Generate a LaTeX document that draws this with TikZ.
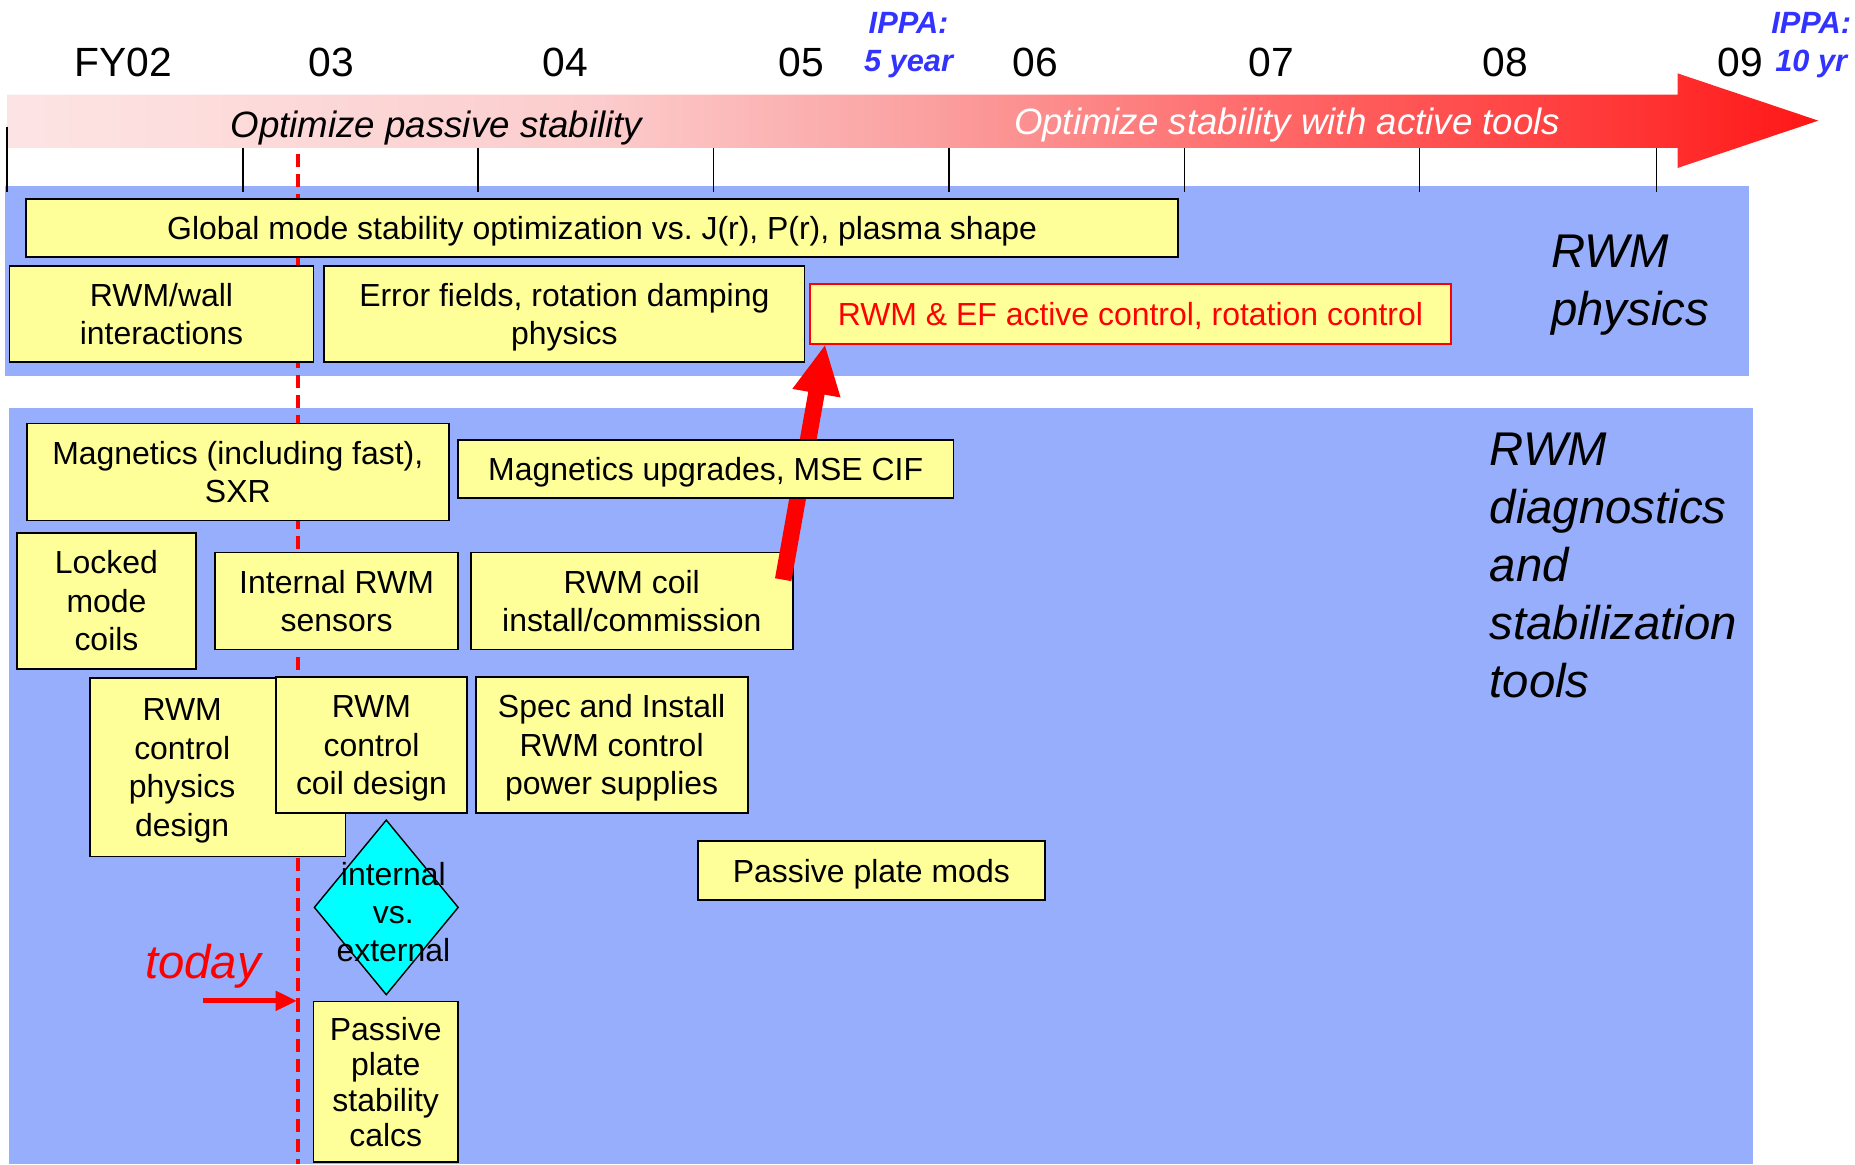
\documentclass[tikz,border=0pt]{standalone}
\usepackage{fontspec}
\setmainfont{Liberation Sans}
\usetikzlibrary{positioning, shapes.geometric, arrows.meta}
\frenchspacing

\definecolor{boxyellow}{RGB}{255,255,153}
\definecolor{panelblue}{RGB}{150,174,252}
\definecolor{ippablue}{RGB}{51,51,255}
\definecolor{choicecyan}{RGB}{0,255,255}
\definecolor{barA}{RGB}{253,228,228}
\definecolor{barB}{RGB}{252,205,205}
\definecolor{barC}{RGB}{251,162,162}
\definecolor{barD}{RGB}{255,104,104}
\definecolor{barE}{RGB}{255,52,52}
\definecolor{barF}{RGB}{255,22,22}
\pgfdeclarehorizontalshading{barshade}{100bp}{color(0bp)=(barA); color(25bp)=(barA);
  color(41bp)=(barB); color(50bp)=(barC); color(60bp)=(barD); color(70bp)=(barE);
  color(75bp)=(barF); color(100bp)=(barF)}
\newcommand{\boxfont}{\fontsize{27}{32.5}\selectfont}

\begin{document}
\begin{tikzpicture}[x=1pt, y=-1pt, node distance=10pt,
  taskbox/.style={draw, fill=boxyellow, line width=1.6pt, inner sep=0pt, outer sep=0pt,
    align=flush center, font=\boxfont,
    execute at begin node={\rule{0pt}{25.9pt}},
    execute at end node={\rule[-6.6pt]{0pt}{6.6pt}}},
  yearlabel/.style={font=\fontsize{34.5}{40}\selectfont},
  ippa/.style={text=ippablue, align=center, font=\fontsize{26}{32.4}\selectfont\bfseries\itshape},
  sidelabel/.style={anchor=north west, inner sep=0pt, align=left,
    font=\fontsize{40}{49}\selectfont\itshape}]
  \useasboundingbox (0,0) rectangle (1568,984);

  % panels and time bar
  \fill[panelblue] (4,157) rectangle (1478,318);
  \fill[panelblue] (8,345) rectangle (1482,984);
  \shade[shading=barshade] (6,80) -- (1418,80) -- (1418,62) -- (1537,102)
    -- (1418,142) -- (1418,125) -- (6,125) -- cycle;
  \node[font=\fontsize{31}{36}\selectfont\itshape] (passive) at (369,108)
  {Optimize passive stability};
  \node[text=white, font=\fontsize{31}{36}\selectfont\itshape] (active tools) at (1088,106)
  {Optimize stability with active tools};
  \draw[line width=1.2pt] (6,107) -- (6,162) (205.5,125) -- (205.5,162) (404,125) -- (404,162)
    (603,125) -- (603,162) (802,125) -- (802,162) (1001,125) -- (1001,162)
    (1200,125) -- (1200,162) (1400,125) -- (1400,162);

  \node[yearlabel] (fy02) at (104,52.5)  {FY02};
  \node[yearlabel] (fy03) at (280,52.5)  {03};
  \node[yearlabel] (fy04) at (478,52.5)  {04};
  \node[yearlabel] (fy05) at (677.5,52.5) {05};
  \node[yearlabel] (fy06) at (875,52.5)  {06};
  \node[yearlabel] (fy07) at (1074.5,52.5) {07};
  \node[yearlabel] (fy08) at (1272.5,52.5) {08};
  \node[yearlabel] (fy09) at (1471,52.5) {09};
  \node[ippa] (ippa 5)  at (768,38)  {IPPA:\\5 year};
  \node[ippa] (ippa 10) at (1531,38) {IPPA:\\10 yr};

  \draw[red, line width=3pt, dash pattern=on 11pt off 6pt] (252,130) -- (252,984);

  % RWM physics
  \node[taskbox, text width=974, minimum height=49] (global) at (509,192.5)
  {Global mode stability optimization vs. J(r), P(r), plasma shape};
  \node[taskbox, text width=257, minimum height=81] (wall) at (136.5,265.5)
  {RWM/wall\\interactions};
  \node[taskbox, text width=406, minimum height=81, right=9pt of wall] (error fields)
  {Error fields, rotation damping\\physics};
  \node[taskbox, draw=red, line width=1.4pt, text=red, text width=542, minimum height=51]
  (active) at (955.5,265.5) {RWM \& EF active control, rotation control};

  % RWM diagnostics and stabilization tools
  \node[taskbox, text width=357, minimum height=82] (magnetics) at (201,399)
  {Magnetics (including fast),\\SXR};
  \node[taskbox, text width=152, minimum height=115] (locked) at (90,508)
  {Locked\\mode\\coils};
  \node[taskbox, text width=205, minimum height=82, right=16pt of locked] (sensors)
  {Internal RWM\\sensors};
  \node[taskbox, text width=272, minimum height=82, right=11pt of sensors] (coil install)
  {RWM coil\\install/commission};
  \node[taskbox, text width=216, minimum height=151,
    label={[font=\boxfont, align=center, xshift=-30pt, yshift=-3pt]center:RWM\\control\\physics\\design}]
  (physics design) at (184,648.5) {};
  \node[taskbox, text width=162, minimum height=115] (coil design) at (314,629.5)
  {RWM\\control\\coil design};
  \node[taskbox, text width=230, minimum height=115, right=7pt of coil design] (supplies)
  {Spec and Install\\RWM control\\power supplies};
  \node[draw, diamond, fill=choicecyan, line width=1.2pt, inner sep=0pt, minimum width=122,
    minimum height=148,
    label={[font=\boxfont, align=center, xshift=6pt, yshift=-4pt]center:internal\\vs.\\external}]
  (choice) at (326.5,767) {};
  \node[taskbox, text width=293, minimum height=50] (plate mods) at (736.5,736)
  {Passive plate mods};
  \node[taskbox, font=\fontsize{27}{30}\selectfont, text width=122, minimum height=136]
  (plate calcs) at (326,914.5) {Passive\\plate\\stability\\calcs};

  \draw[red, line width=14pt, -{Triangle[length=42pt, width=38pt]}]
  ([xshift=-8pt, yshift=-23pt]coil install.north east) -- ([xshift=13pt]active.south west);
  \node[taskbox, text width=419, minimum height=49] (magnetics up) at (596.5,396.5)
  {Magnetics upgrades, MSE CIF};

  \node[sidelabel] (physics) at (1311,198.5) {RWM\\physics};
  \node[sidelabel] (tools) at (1259,365.5) {RWM\\diagnostics\\and\\stabilization\\tools};

  \node[text=red, font=\fontsize{40}{45}\selectfont\itshape] (today) at (171.5,817) {today};
  \coordinate (now) at (251,846);
  \draw[red, line width=4.2pt, -{Triangle[length=18pt, width=16pt]}] (today.south |- now) -- (now);
\end{tikzpicture}
\end{document}
